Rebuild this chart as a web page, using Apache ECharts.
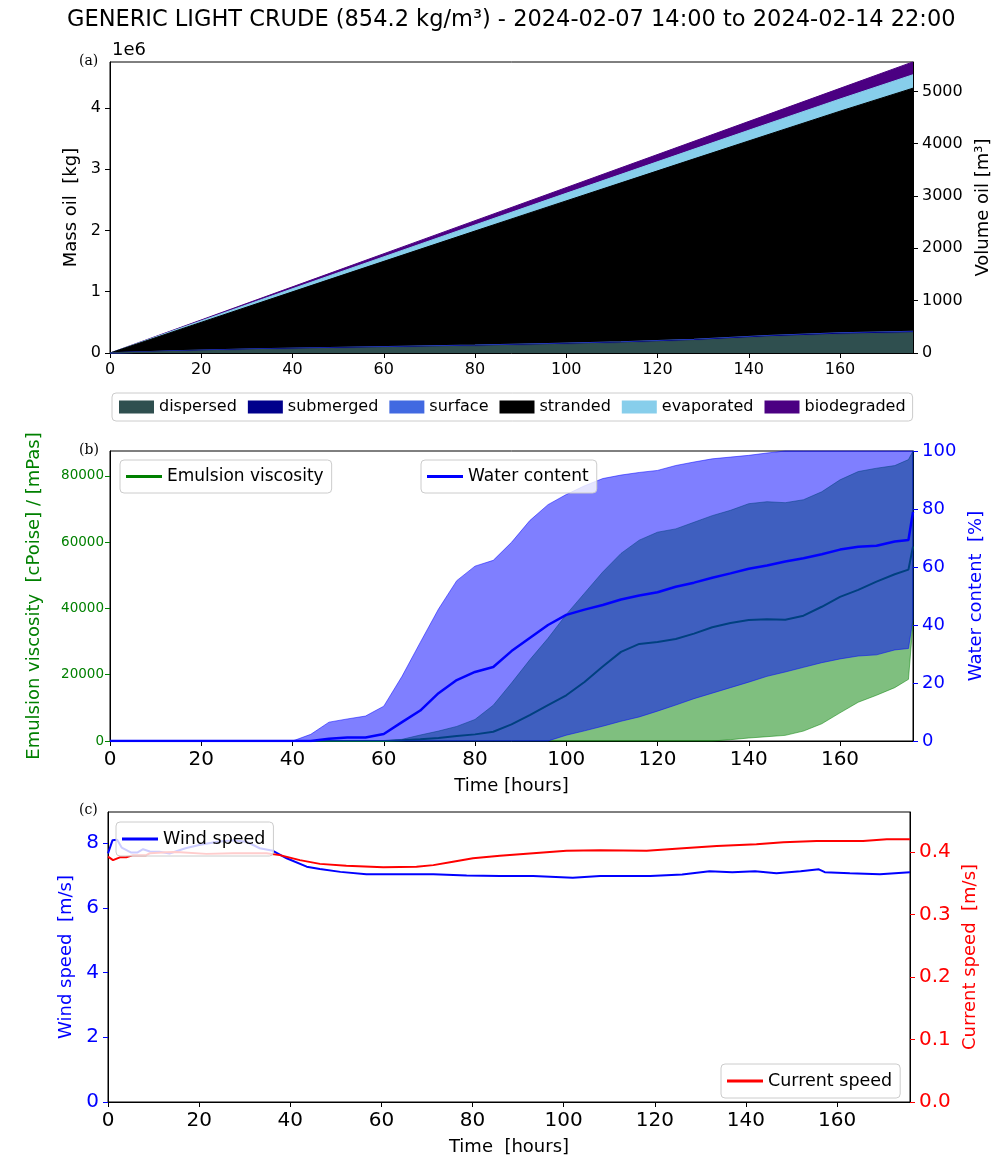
<!DOCTYPE html>
<html>
<head>
<meta charset="utf-8">
<script src="https://cdn.jsdelivr.net/npm/echarts@6/dist/echarts.min.js"></script>
<style>
html, body { margin: 0; background: #fff; }
#chart { width: 992px; height: 1161px; }
</style>
</head>
<body>
<div id="chart"></div>
<script>
// (a) oil budget [kg], hours since release start
var budgetHours = [0, 16, 32, 48, 64, 80, 96, 112, 128, 144, 160, 176];
var dispersed   = [0, 28000, 55000, 74000, 92000, 112000, 136000, 165000, 204000, 264000, 307000, 332000];
var submerged   = [0, 3000, 5000, 6000, 7000, 7000, 8000, 8000, 9000, 9000, 10000, 10000];
var surface     = [0, 4000, 5000, 5000, 6000, 6000, 6000, 7000, 7000, 7000, 8000, 8000];
var stranded    = [0, 366000, 735000, 1113000, 1490000, 1866000, 2235000, 2597000, 2949000, 3279000, 3622000, 3973000];
var evaporated  = [0, 20000, 40000, 60000, 79000, 99000, 119000, 139000, 159000, 179000, 199000, 219000];
var biodegraded = [0, 11000, 24000, 38000, 54000, 70000, 88000, 108000, 128000, 150000, 174000, 210000];

// (b) emulsion viscosity [cP] and water content [%]
var emulHours  = [0, 40, 44, 48, 52, 56, 60, 64, 68, 72, 76, 80, 84, 88, 92, 96, 100, 104, 108, 112, 116, 120, 124, 128, 132, 136, 140, 144, 148, 152, 156, 160, 164, 168, 172, 175, 176];
var viscMean   = [0, 0, 0, 0, 0, 0, 0, 200, 500, 900, 1500, 2000, 2800, 5000, 7800, 10800, 13800, 17800, 22500, 26900, 29300, 29900, 30800, 32400, 34300, 35600, 36500, 36700, 36600, 37800, 40500, 43500, 45600, 48100, 50300, 51700, 58700];
var viscLow    = [0, 0, 0, 0, 0, 0, 0, 0, 0, 0, 0, 0, 0, 0, 0, 0, 0, 0, 0, 0, 0, 0, 0, 0, 0, 400, 900, 1300, 1700, 3000, 5200, 8500, 11700, 13800, 16100, 18600, 35500];
var viscHigh   = [0, 0, 0, 0, 0, 0, 0, 500, 1800, 3000, 4400, 6500, 10800, 17500, 24500, 31000, 38200, 44600, 51000, 56600, 60600, 63000, 64000, 66000, 68000, 69600, 71600, 72200, 71900, 72800, 75200, 78800, 81300, 82300, 83100, 84900, 87500];
var waterMean  = [0, 0, 0, 0.8, 1.2, 1.2, 2.4, 6.5, 10.5, 16.5, 21, 23.8, 25.5, 31, 35.5, 40, 43.5, 45.3, 46.9, 48.8, 50.2, 51.3, 53.2, 54.6, 56.3, 57.8, 59.4, 60.5, 61.9, 63, 64.4, 66, 67, 67.3, 68.8, 69.3, 79];
var waterLow   = [0, 0, 0, 0, 0, 0, 0, 0, 0, 0, 0, 0, 0, 0, 0, 0, 2, 3.5, 5.1, 6.8, 8.3, 10.3, 12.4, 14.6, 16.5, 18.4, 20.3, 22.3, 23.8, 25.4, 27, 28.3, 29.3, 29.7, 31.4, 31.9, 42];
var waterHigh  = [0, 0, 2.3, 6.5, 7.6, 8.6, 12, 22.3, 34, 45.5, 55.3, 60.3, 62.3, 68.5, 76, 81.5, 85, 88, 90.5, 91.7, 92.6, 93.3, 95, 96.2, 97.3, 97.9, 98.5, 99.3, 100, 100, 100, 100, 100, 100, 100, 100, 100];

// (c) forcing
var windHours = [0, 1, 2, 3, 5, 6.5, 7.7, 9.2, 11.3, 13.5, 17, 20, 24, 27.4, 30.4, 33.3, 36.2, 39.2, 43.6, 46.5, 51, 56.7, 64, 71.4, 78.7, 86, 93.3, 102, 108, 119, 126, 132, 137, 142, 146.7, 152, 156, 157.3, 162.8, 169.4, 176];
var windSpeed = [7.68, 8.09, 8.1, 7.86, 7.71, 7.71, 7.81, 7.74, 7.73, 7.68, 7.84, 7.94, 8.04, 8.09, 8.04, 7.84, 7.76, 7.53, 7.27, 7.2, 7.11, 7.04, 7.04, 7.04, 7.0, 6.98, 6.98, 6.93, 6.98, 6.98, 7.03, 7.13, 7.1, 7.13, 7.07, 7.13, 7.19, 7.1, 7.07, 7.04, 7.1];
var currentHours = [0, 1.1, 2.6, 4, 5.5, 8.4, 9.2, 12.8, 15, 21.6, 27.4, 34.8, 37.7, 42.1, 46.5, 52.3, 60.4, 67.7, 71.4, 75.7, 80.1, 86, 93.3, 100.6, 108, 118.2, 126.2, 133.6, 142.3, 148.2, 155.5, 165.7, 170.9, 176];
var currentSpeed = [0.3925, 0.387, 0.3915, 0.3915, 0.395, 0.395, 0.398, 0.3995, 0.4, 0.397, 0.398, 0.398, 0.395, 0.387, 0.381, 0.378, 0.3755, 0.3765, 0.379, 0.3845, 0.39, 0.394, 0.398, 0.402, 0.4027, 0.402, 0.406, 0.4096, 0.4123, 0.4155, 0.4176, 0.4176, 0.4203, 0.4203];

// ticks
var hourTicks = [0, 20, 40, 60, 80, 100, 120, 140, 160];
var massTicks = [0, 1e6, 2e6, 3e6, 4e6];
var volumeTicks = [0, 1000, 2000, 3000, 4000, 5000];
var viscTicks = [0, 20000, 40000, 60000, 80000];
var waterTicks = [0, 20, 40, 60, 80, 100];
var windTicks = [0, 2, 4, 6, 8];
var currentTicks = [0, 0.1, 0.2, 0.3, 0.4];

var density = 854.2;
var massMax = 4750000;
var FONT = 'DejaVu Sans';

var budgetNames = ['dispersed', 'submerged', 'surface', 'stranded', 'evaporated', 'biodegraded'];
var budgetColors = ['#2f4f4f', '#00008b', '#4169e1', '#000000', '#87ceeb', '#4b0082'];
var budgetParts = [dispersed, submerged, surface, stranded, evaporated, biodegraded];

// running sums so each area can be painted down to zero, top one first
var cum = [];
budgetParts.forEach(function (part, i) {
    cum.push(part.map(function (v, j) { return v + (i ? cum[i - 1][j] : 0); }));
});

function pairs(xs, ys) {
    return xs.map(function (x, i) { return [x, ys[i]]; });
}

function band(name, hours, low, high, color, yi, z) {
    return {
        name: name, type: 'custom', xAxisIndex: 1, yAxisIndex: yi, z: z, silent: true,
        data: hours.map(function (h, i) { return [h, low[i], high[i]]; }),
        encode: { x: 0, y: [1, 2] },
        renderItem: function (params, api) {
            if (params.dataIndex !== 0) return;
            var top = [], bot = [];
            for (var i = 0; i < hours.length; i++) {
                top.push(api.coord([hours[i], high[i]]));
                bot.unshift(api.coord([hours[i], low[i]]));
            }
            return {
                type: 'polygon',
                shape: { points: top.concat(bot) },
                style: { fill: color, stroke: color, lineWidth: 1 }
            };
        }
    };
}

var series = [];
for (var i = budgetNames.length - 1; i >= 0; i--) {
    series.push({
        name: budgetNames[i], type: 'line', xAxisIndex: 0, yAxisIndex: 0,
        data: pairs(budgetHours, cum[i]), showSymbol: false, silent: true,
        z: 2 + (budgetNames.length - i),
        itemStyle: { color: budgetColors[i] },
        lineStyle: { color: budgetColors[i], width: (i === 1 || i === 2) ? 1.5 : 1 },
        areaStyle: { color: budgetColors[i], opacity: 1 }
    });
}

series.push(band('viscBand', emulHours, viscLow, viscHigh, 'rgba(0,128,0,0.5)', 2, 2));
series.push({
    name: 'Emulsion viscosity', type: 'line', xAxisIndex: 1, yAxisIndex: 2, z: 3,
    data: pairs(emulHours, viscMean), showSymbol: false, silent: true,
    itemStyle: { color: 'green' }, lineStyle: { color: 'green', width: 2 }
});
series.push(band('waterBand', emulHours, waterLow, waterHigh, 'rgba(0,0,255,0.5)', 3, 4));
series.push({
    name: 'Water content', type: 'line', xAxisIndex: 1, yAxisIndex: 3, z: 5,
    data: pairs(emulHours, waterMean), showSymbol: false, silent: true,
    itemStyle: { color: 'blue' }, lineStyle: { color: 'blue', width: 2.5 }
});

series.push({
    name: 'Wind speed', type: 'line', xAxisIndex: 2, yAxisIndex: 4, z: 3,
    data: pairs(windHours, windSpeed), showSymbol: false, silent: true,
    itemStyle: { color: 'blue' }, lineStyle: { color: 'blue', width: 2 }
});
series.push({
    name: 'Current speed', type: 'line', xAxisIndex: 2, yAxisIndex: 5, z: 4,
    data: pairs(currentHours, currentSpeed), showSymbol: false, silent: true,
    itemStyle: { color: 'red' }, lineStyle: { color: 'red', width: 2 }
});

function plain(v) { return String(v); }

function xAxis(grid, size, name) {
    return {
        type: 'value', gridIndex: grid, min: 0, max: 176, interval: 20,
        name: name || '', nameLocation: 'middle', nameGap: 36,
        nameTextStyle: { fontSize: 18, fontFamily: FONT, color: '#000' },
        axisLine: { onZero: false, lineStyle: { color: '#000' } },
        axisTick: { length: 5, customValues: hourTicks, lineStyle: { color: '#000' } },
        axisLabel: { customValues: hourTicks, fontSize: size, fontFamily: FONT, color: '#000', margin: 9, formatter: plain },
        splitLine: { show: false }
    };
}

function yAxis(grid, pos, max, interval, ticks, color, size, name, gap, margin, fmt) {
    return {
        type: 'value', gridIndex: grid, position: pos, min: 0, max: max, interval: interval,
        name: name, nameLocation: 'middle', nameRotate: 90, nameGap: gap,
        nameTextStyle: { fontSize: 18, fontFamily: FONT, color: color },
        axisLine: { show: true, onZero: false, lineStyle: { color: '#000' } },
        axisTick: { show: true, length: 5, customValues: ticks, lineStyle: { color: color } },
        axisLabel: { customValues: ticks, fontSize: size, fontFamily: FONT, color: color, margin: margin, formatter: fmt || plain },
        splitLine: { show: false }
    };
}

var legendText = { fontSize: 16, fontFamily: FONT, color: '#000' };
var legendBox = { borderColor: '#cccccc', borderWidth: 1, borderRadius: 4, backgroundColor: 'rgba(255,255,255,0.8)', z: 20 };

function lineLegend(name, left, top, size) {
    return Object.assign({
        data: [name], left: left, top: top, icon: 'rect', itemWidth: 36, itemHeight: 3,
        padding: [8, 8, 8, 6], selectedMode: false,
        textStyle: { fontSize: size, fontFamily: FONT, color: '#000' }
    }, legendBox);
}

function grid(left, right, top) {
    return { left: left, right: right, top: top, height: top === 62 ? 291 : 290, show: true,
        borderColor: '#000', borderWidth: 1, containLabel: false, outerBoundsMode: 'none' };
}

var option = {
    animation: false,
    backgroundColor: '#fff',
    grid: [grid(110, 79, 62), grid(110, 79, 451), grid(108, 82, 812)],
    xAxis: [
        xAxis(0, 16),
        xAxis(1, 20, 'Time [hours]'),
        xAxis(2, 20, 'Time  [hours]')
    ],
    yAxis: [
        yAxis(0, 'left', massMax, 1e6, massTicks, '#000', 16, 'Mass oil  [kg]', 26, 9,
            function (v) { return String(v / 1e6); }),
        yAxis(0, 'right', massMax / density, 1000, volumeTicks, '#000', 16, 'Volume oil [m³]', 61, 9),
        yAxis(1, 'left', 87500, 20000, viscTicks, 'green', 13.5, 'Emulsion viscosity  [cPoise] / [mPas]', 67, 6),
        yAxis(1, 'right', 100, 20, waterTicks, 'blue', 18, 'Water content  [%]', 41, 9),
        yAxis(2, 'left', 8.96, 2, windTicks, 'blue', 20, 'Wind speed  [m/s]', 32, 9),
        yAxis(2, 'right', 0.464, 0.1, currentTicks, 'red', 20, 'Current speed  [m/s]', 50, 9,
            function (v) { return v.toFixed(1); })
    ],
    legend: [
        Object.assign({
            data: budgetNames, left: 112, top: 393, icon: 'rect', itemWidth: 35, itemHeight: 13,
            itemGap: 11, padding: [6, 7, 6, 7], selectedMode: false, textStyle: legendText
        }, legendBox, { backgroundColor: '#fff' }),
        lineLegend('Emulsion viscosity', 120, 460, 17),
        lineLegend('Water content', 421, 460, 17),
        lineLegend('Wind speed', 116, 822, 17.5),
        lineLegend('Current speed', 721, 1064, 17.5)
    ],
    graphic: [
        { type: 'text', left: 67, top: 9, style: { text: 'GENERIC LIGHT CRUDE (854.2 kg/m³) - 2024-02-07 14:00 to 2024-02-14 22:00', fontSize: 22.5, fontFamily: FONT, fill: '#000' } },
        { type: 'text', left: 112, top: 41, style: { text: '1e6', fontSize: 18, fontFamily: FONT, fill: '#000' } },
        { type: 'text', left: 79, top: 54, style: { text: '(a)', fontSize: 14, fontFamily: 'DejaVu Serif', fill: '#000' } },
        { type: 'text', left: 79, top: 443, style: { text: '(b)', fontSize: 14, fontFamily: 'DejaVu Serif', fill: '#000' } },
        { type: 'text', left: 79, top: 803, style: { text: '(c)', fontSize: 14, fontFamily: 'DejaVu Serif', fill: '#000' } }
    ],
    series: series
};

var chart = echarts.init(document.getElementById('chart'), null, { renderer: 'canvas' });
chart.setOption(option);
</script>
</body>
</html>
